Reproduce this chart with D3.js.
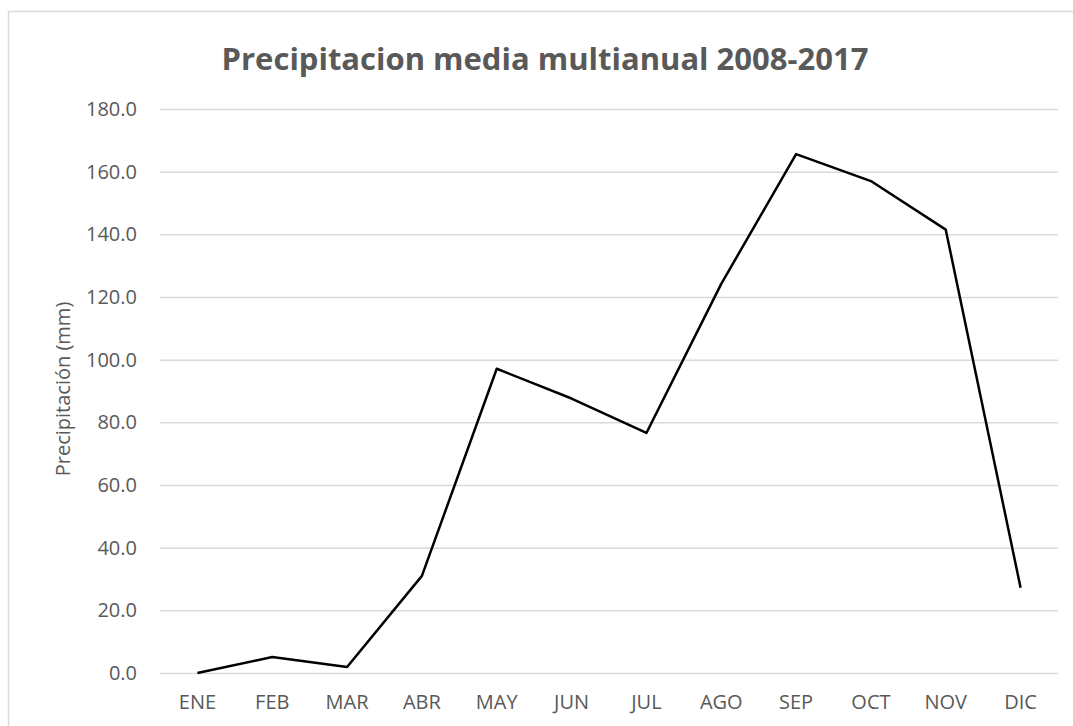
<!DOCTYPE html>
<html>
<head>
<meta charset="utf-8">
<script src="https://cdn.jsdelivr.net/npm/d3@7"></script>
<style>
  body { margin: 0; background: #fff; }
  svg, svg text { font-family: "Open Sans", sans-serif; }
  svg { display: block; }
</style>
</head>
<body>
<script>
// data
var months = ['ENE', 'FEB', 'MAR', 'ABR', 'MAY', 'JUN', 'JUL', 'AGO', 'SEP', 'OCT', 'NOV', 'DIC'];
var precip = [0.0, 5.1, 1.9, 31.0, 97.1, 87.6, 76.6, 124.2, 165.6, 157.0, 141.5, 27.2];
var yTicks = [0, 20, 40, 60, 80, 100, 120, 140, 160, 180];
var title = 'Precipitacion media multianual 2008-2017';
var yTitle = 'Precipitación (mm)';

var W = 1073, H = 726;
var margin = { top: 109, right: 15, bottom: 53, left: 160 };
var width = W - margin.left - margin.right;
var height = H - margin.top - margin.bottom;

var svg = d3.select('body').append('svg').attr('width', W).attr('height', H);

// chart frame (runs off the right and bottom edges)
svg.append('rect')
  .attr('x', 8.5).attr('y', 11.5)
  .attr('width', 1100).attr('height', 800)
  .style('fill', 'none').style('stroke', '#d9d9d9').style('stroke-width', 1.5);

var g = svg.append('g').attr('transform', 'translate(' + margin.left + ',' + margin.top + ')');

var x = d3.scaleBand().domain(months).range([0, width]);
var y = d3.scaleLinear().domain([0, 180]).range([height, 0]);

// gridlines + y labels
var yAxis = g.append('g')
  .call(d3.axisLeft(y).tickValues(yTicks).tickSize(-width).tickPadding(23).tickFormat(d3.format('.1f')));
yAxis.select('.domain').remove();
yAxis.selectAll('line').style('stroke', '#d9d9d9').style('stroke-width', 1.5);
yAxis.selectAll('text').style('fill', '#595959').style('font-size', '20px');

// x labels
var xAxis = g.append('g').attr('transform', 'translate(0,' + height + ')')
  .call(d3.axisBottom(x).tickSize(0).tickPadding(22));
xAxis.select('.domain').remove();
xAxis.selectAll('text').style('fill', '#595959').style('font-size', '20px');

var line = d3.line()
  .x(function (d, i) { return x(months[i]) + x.bandwidth() / 2; })
  .y(function (d) { return y(d); });

g.append('path').datum(precip)
  .attr('d', line)
  .style('fill', 'none').style('stroke', '#000').style('stroke-width', 2.5)
  .style('stroke-linejoin', 'round');

svg.append('text')
  .attr('x', 545).attr('y', 70)
  .attr('text-anchor', 'middle')
  .style('font-size', '31px').style('font-weight', 'bold').style('fill', '#595959')
  .text(title);

svg.append('text')
  .attr('transform', 'translate(70,' + (margin.top + height / 2 - 2) + ') rotate(-90)')
  .attr('text-anchor', 'middle')
  .style('font-size', '20px').style('fill', '#595959')
  .text(yTitle);
</script>
</body>
</html>
